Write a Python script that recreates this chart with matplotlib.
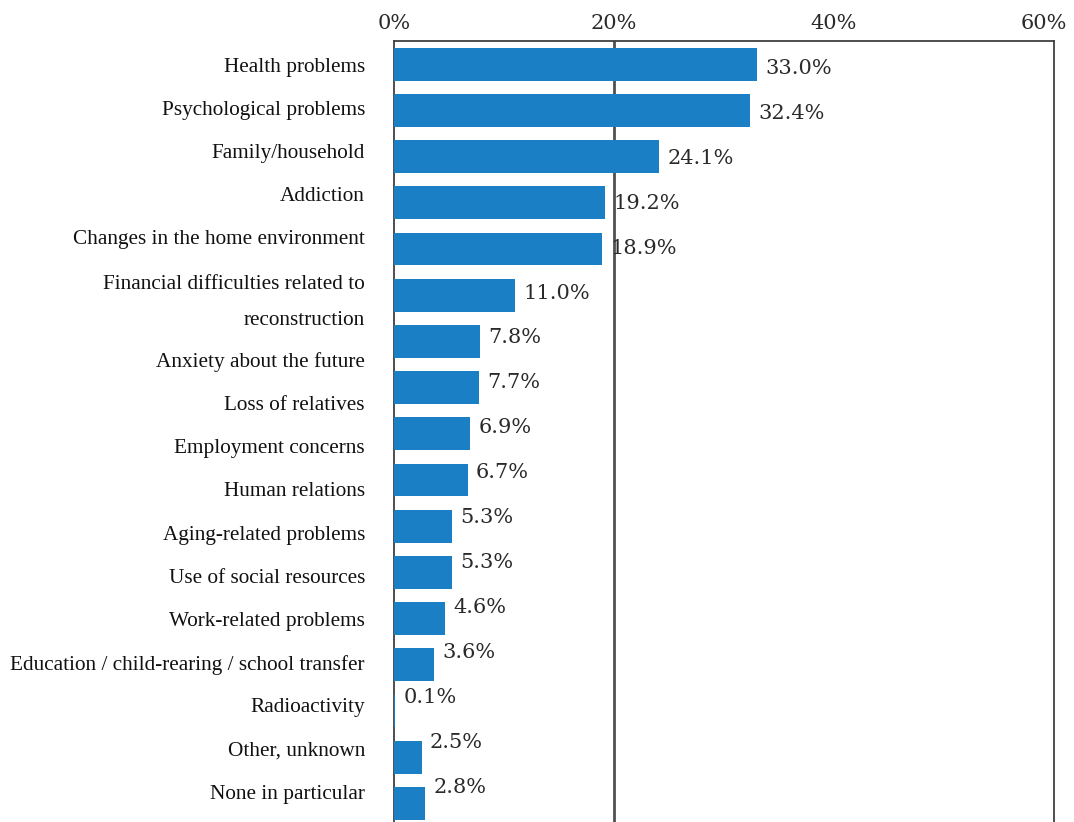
import numpy as np
import matplotlib
matplotlib.use("Agg")
import matplotlib.pyplot as plt
from matplotlib.transforms import ScaledTranslation

# categories and share of respondents (%)
categories = [
    "Health problems",
    "Psychological problems",
    "Family/household",
    "Addiction",
    "Changes in the home environment",
    "Financial difficulties related to\nreconstruction",
    "Anxiety about the future",
    "Loss of relatives",
    "Employment concerns",
    "Human relations",
    "Aging-related problems",
    "Use of social resources",
    "Work-related problems",
    "Education / child-rearing / school transfer",
    "Radioactivity",
    "Other, unknown",
    "None in particular",
]
values = [33.0, 32.4, 24.1, 19.2, 18.9, 11.0, 7.8, 7.7, 6.9, 6.7,
          5.3, 5.3, 4.6, 3.6, 0.1, 2.5, 2.8]
xticks = [0, 20, 40, 60]

bar_color = "#1a7fc4"
edge_gray = "#404040"
text_color = "#2a2a2a"

fig = plt.figure(figsize=(10.74, 8.22), dpi=100)
ax = fig.add_axes([0.3669, -0.0054, 0.6145, 0.9555])

pos = np.arange(len(values))
ax.barh(pos, values, height=0.71, color=bar_color, zorder=3)

ax.set_xlim(0, 60)
ax.set_ylim(len(values) - 0.5, -0.5)

# percent axis along the top
ax.xaxis.tick_top()
ax.set_xticks(xticks)
ax.set_xticklabels([f"{t}%" for t in xticks], family="DejaVu Serif",
                   fontsize=15, color=text_color)
ax.tick_params(axis="x", length=0, pad=6)
# keep the last label inside the figure
last = ax.get_xticklabels()[-1]
last.set_transform(last.get_transform()
                   + ScaledTranslation(-7 / 72, 0, fig.dpi_scale_trans))

# category labels are stacked like a text list: a fixed line step,
# the wrapped label taking an extra (tighter) line
step, wrap_gap = 0.935, 0.78
label_pos = []
y = 0.01
for name in categories:
    extra = name.count("\n") * wrap_gap
    label_pos.append(y + extra * 0.3)
    y += extra + step

ax.set_yticks(label_pos)
ax.set_yticklabels(categories, family="Liberation Serif", fontsize=15.3,
                   color="#111111")
ax.tick_params(axis="y", length=0, pad=21)
for lbl in ax.get_yticklabels():
    if "\n" in lbl.get_text():
        lbl.set_linespacing(2.2)
        lbl.set_multialignment("right")

# single reference line at 20%
ax.axvline(20, color="#505050", lw=2, zorder=2)

for side in ["top", "right", "left"]:
    ax.spines[side].set_color(edge_gray)
    ax.spines[side].set_linewidth(1.3)
ax.spines["bottom"].set_visible(False)

# value labels
for i, v in enumerate(values):
    ax.annotate(f"{v:.1f}%", xy=(v, i * 0.972 + 0.095), xytext=(6, 0),
                textcoords="offset points", va="center", ha="left",
                family="DejaVu Serif", fontsize=15, color=text_color,
                zorder=4)

fig.savefig("out.png", dpi=100)
